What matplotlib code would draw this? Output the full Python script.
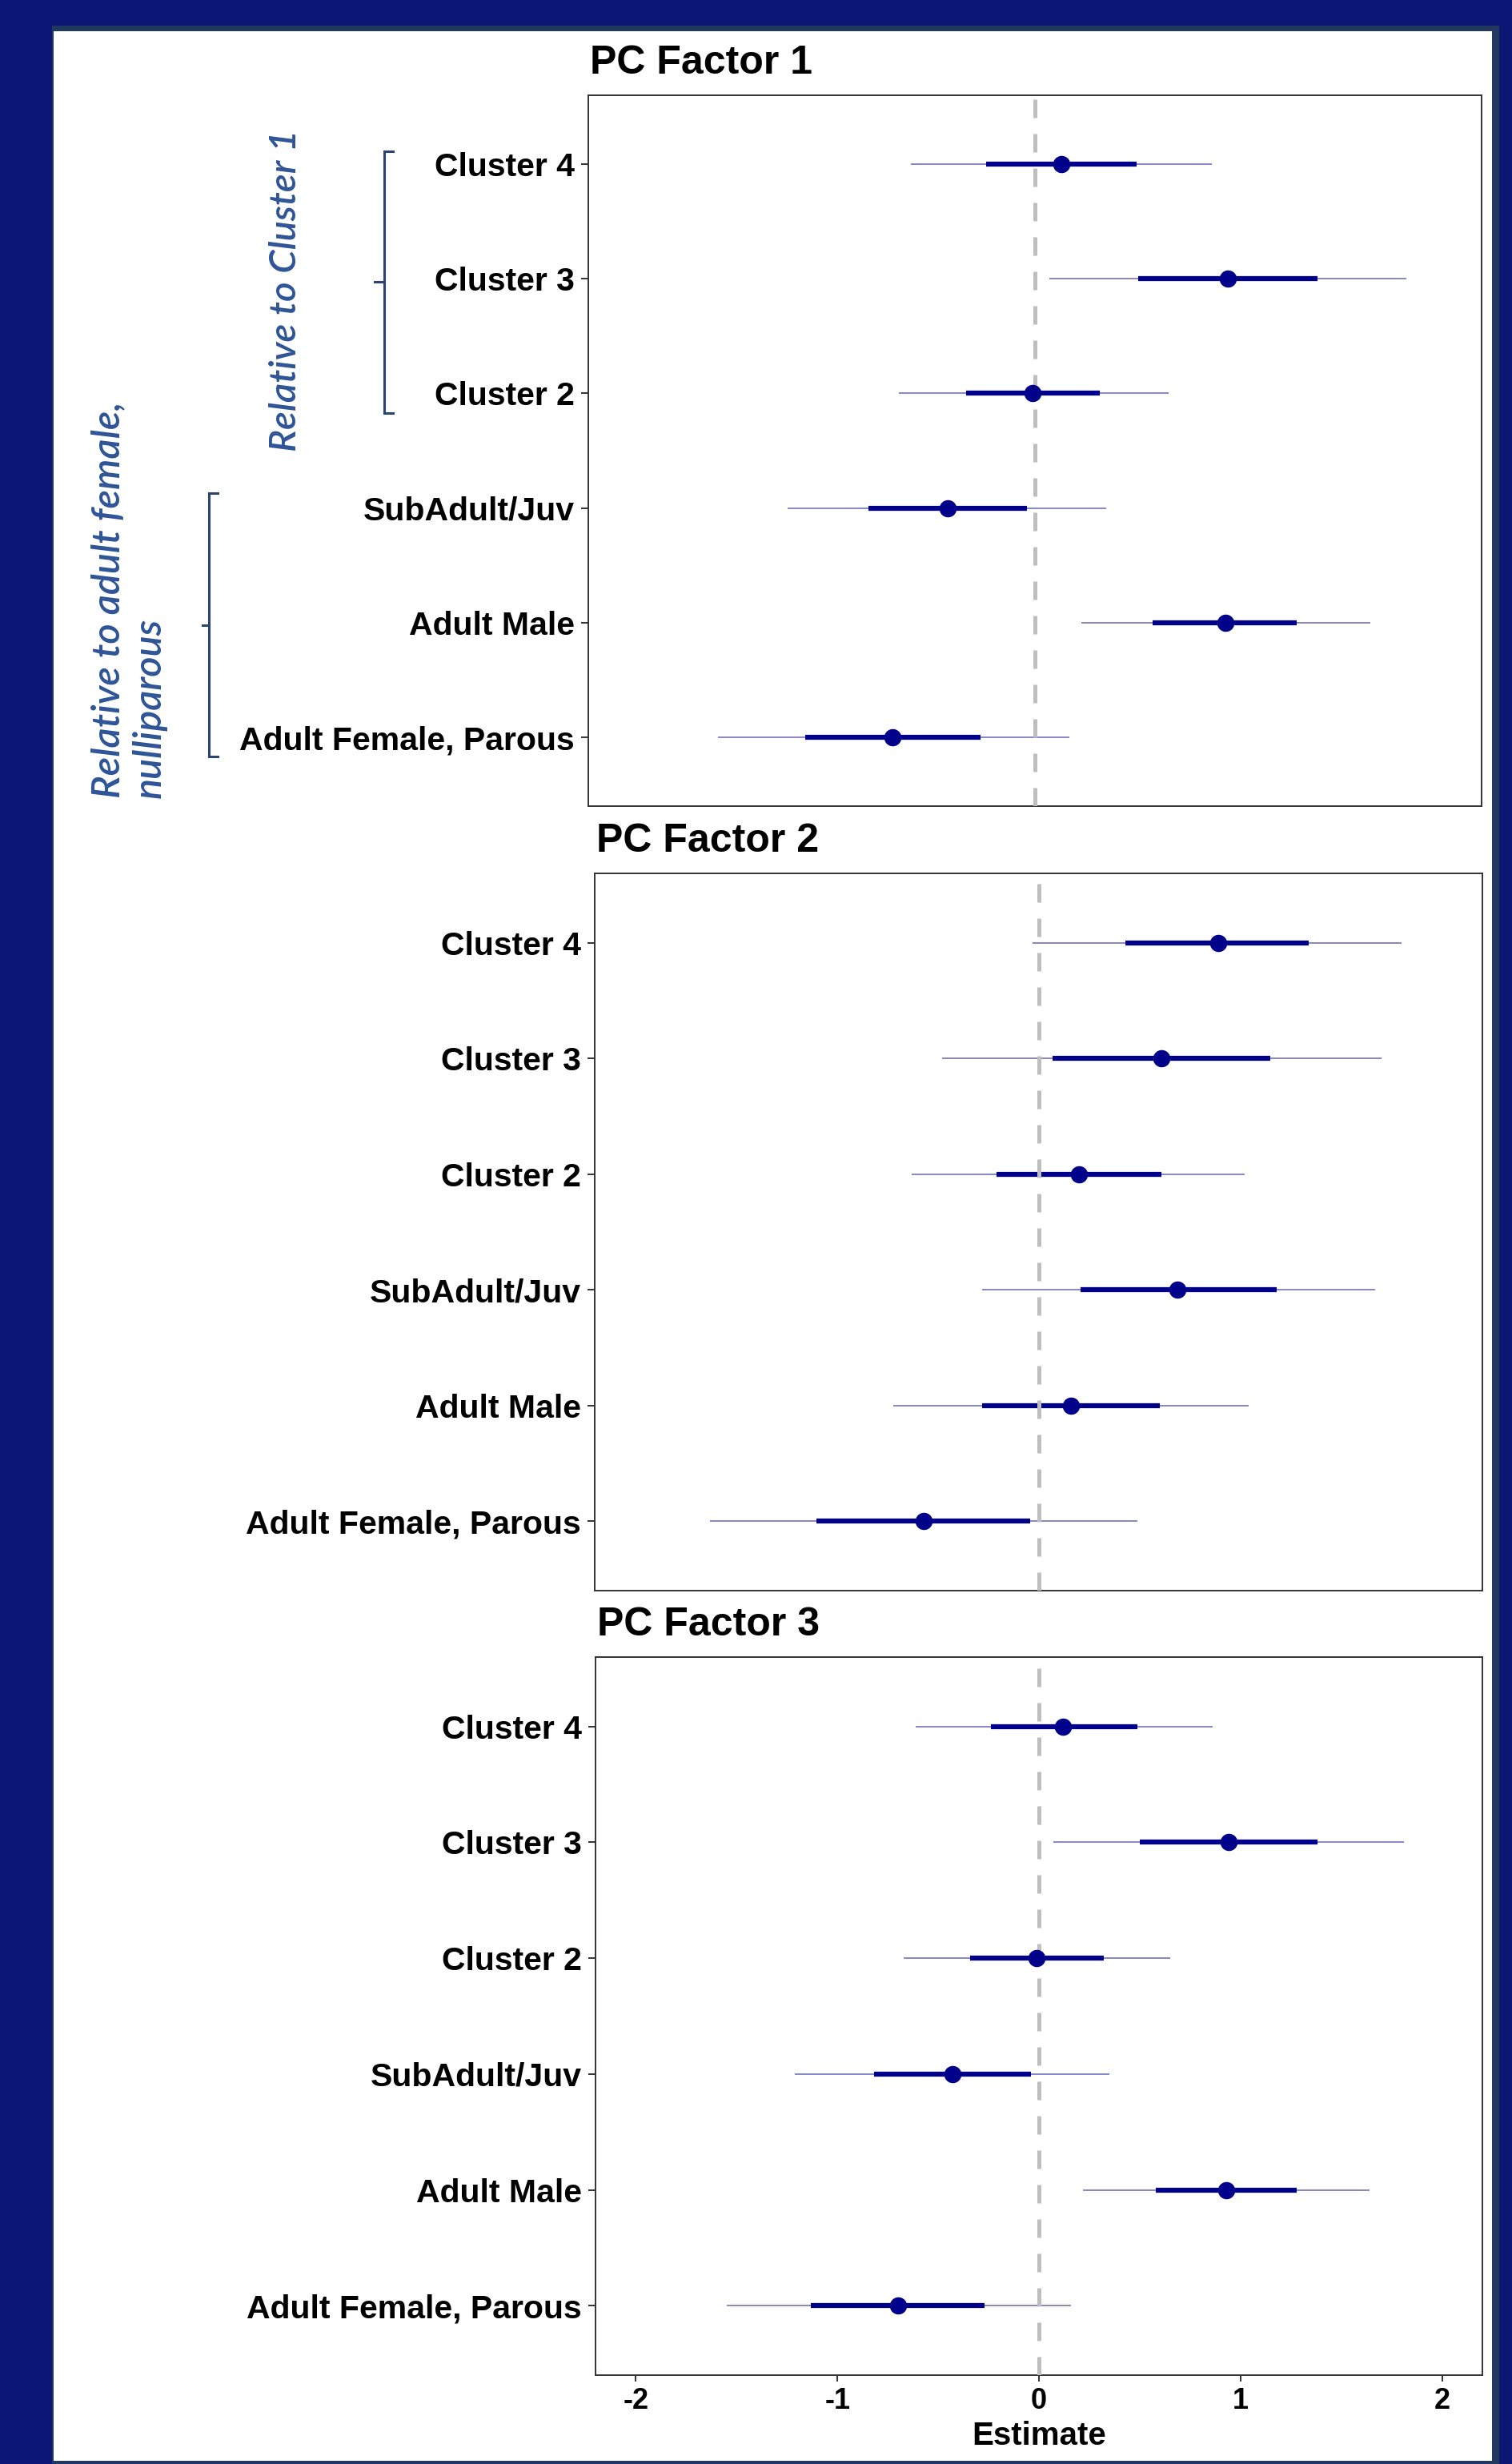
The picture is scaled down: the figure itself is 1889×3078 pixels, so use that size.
import matplotlib
matplotlib.use("Agg")
import matplotlib.pyplot as plt
import matplotlib.transforms as mtransforms
from matplotlib.patches import Rectangle
from matplotlib.lines import Line2D

# ---- data (rows listed bottom to top) ----
categories = ["Adult Female, Parous", "Adult Male", "SubAdult/Juv",
              "Cluster 2", "Cluster 3", "Cluster 4"]

pc1_est  = [-0.70, 0.94, -0.43, -0.01, 0.95, 0.13]
pc1_lo50 = [-1.13, 0.58, -0.82, -0.34, 0.51, -0.24]
pc1_hi50 = [-0.27, 1.29, -0.04, 0.32, 1.39, 0.50]
pc1_lo95 = [-1.56, 0.23, -1.22, -0.67, 0.07, -0.61]
pc1_hi95 = [0.17, 1.65, 0.35, 0.66, 1.83, 0.87]

pc2_est  = [-0.57, 0.16, 0.69, 0.20, 0.61, 0.89]
pc2_lo50 = [-1.10, -0.28, 0.21, -0.21, 0.07, 0.43]
pc2_hi50 = [-0.04, 0.60, 1.18, 0.61, 1.15, 1.34]
pc2_lo95 = [-1.63, -0.72, -0.28, -0.63, -0.48, -0.03]
pc2_hi95 = [0.49, 1.04, 1.67, 1.02, 1.70, 1.80]

pc3_est  = [-0.70, 0.93, -0.43, -0.01, 0.94, 0.12]
pc3_lo50 = [-1.13, 0.58, -0.82, -0.34, 0.50, -0.24]
pc3_hi50 = [-0.27, 1.28, -0.04, 0.32, 1.38, 0.49]
pc3_lo95 = [-1.55, 0.22, -1.21, -0.67, 0.07, -0.61]
pc3_hi95 = [0.16, 1.64, 0.35, 0.65, 1.81, 0.86]

panel_titles = ["PC Factor 1", "PC Factor 2", "PC Factor 3"]
x_ticks = [-2, -1, 0, 1, 2]
x_label = "Estimate"

panels = [
    (pc1_est, pc1_lo50, pc1_hi50, pc1_lo95, pc1_hi95),
    (pc2_est, pc2_lo50, pc2_hi50, pc2_lo95, pc2_hi95),
    (pc3_est, pc3_lo50, pc3_hi50, pc3_lo95, pc3_hi95),
]

# ---- styling ----
W, H = 1889, 3078
DPI = 100
BG = "#0b1774"
FRAME = "#22395f"
MARK = "#00008b"
ANNOT = "#2f5597"
BRACKET = "#2c4470"
BOLD = dict(family=["Liberation Sans", "DejaVu Sans"], weight="bold")

fig = plt.figure(figsize=(W / DPI, H / DPI), dpi=DPI)
fig.patch.set_facecolor(BG)


def fx(px):
    return px / W


def fy(py):
    return 1 - py / H


# slide frame and white card behind the plots
fig.add_artist(Rectangle((fx(65), 0), fx(1873 - 65), (H - 32) / H,
                         transform=fig.transFigure, facecolor=FRAME,
                         edgecolor="none", zorder=-10))
fig.add_artist(Rectangle((fx(67), fy(3074)), fx(1864 - 67), (3074 - 39) / H,
                         transform=fig.transFigure, facecolor="white",
                         edgecolor="none", zorder=-9))

# axes boxes in pixel coordinates: left, top, right, bottom
boxes = [(735, 119, 1851, 1007), (743, 1091, 1852, 1987), (744, 2070, 1852, 2967)]
ypos = list(range(1, len(categories) + 1))

axes = []
for i, ((l, t, r, b), data) in enumerate(zip(boxes, panels)):
    ax = fig.add_axes([fx(l), fy(b), fx(r - l), (b - t) / H])
    est, lo50, hi50, lo95, hi95 = data
    ax.hlines(ypos, lo95, hi95, color=MARK, alpha=0.6, lw=1.1, zorder=2)
    ax.hlines(ypos, lo50, hi50, color=MARK, lw=4.5, zorder=3)
    ax.axvline(0, color="#bebebe", lw=3.6, dashes=(4.6, 4.0), zorder=4)
    ax.plot(est, ypos, "o", ms=15.5, color=MARK, mec="none", zorder=5)

    ax.set_xlim(-2.2, 2.2)
    ax.set_ylim(0.4, 6.6)
    ax.set_yticks(ypos)
    ax.set_yticklabels(categories, fontsize=29.5, color="black", **BOLD)
    ax.tick_params(axis="y", length=6.5, width=1.4, color="#333333", pad=5.8)
    for sp in ax.spines.values():
        sp.set_color("#333333")
        sp.set_linewidth(1.4)

    if i < 2:
        ax.set_xticks([])
    else:
        ax.set_xticks(x_ticks)
        ax.set_xticklabels([str(v) for v in x_ticks], fontsize=26, **BOLD)
        ax.tick_params(axis="x", length=6, width=1.4, color="#333333", pad=4.5)
        ax.set_xlabel(x_label, fontsize=29, labelpad=5, **BOLD)

    off = mtransforms.offset_copy(ax.transAxes, fig=fig, x=1.5, y=19.4, units="points")
    ax.text(0, 1, panel_titles[i], transform=off, ha="left", va="baseline",
            fontsize=36, **BOLD)
    axes.append(ax)

ax1 = axes[0]

# group brackets beside the first panel's labels
btr = mtransforms.blended_transform_factory(fig.transFigure, ax1.transData)


def bracket(x, x_serif, x_mid, y0, y1, ymid):
    pts_x = [fx(x_serif), fx(x), fx(x), fx(x_serif)]
    pts_y = [y1, y1, y0, y0]
    fig.add_artist(Line2D(pts_x, pts_y, transform=btr, color=BRACKET, lw=2.2,
                          solid_joinstyle="miter"))
    fig.add_artist(Line2D([fx(x_mid), fx(x)], [ymid, ymid], transform=btr,
                          color=BRACKET, lw=2.2))


bracket(480, 491, 468, 3.83, 6.11, 4.97)
bracket(261, 272, 253, 0.83, 3.13, 1.98)

ITAL = dict(family=["Lato", "DejaVu Sans"], style="italic", weight="semibold",
            color=ANNOT)
fig.text(fx(357), fy(363), "Relative to Cluster 1", rotation=90,
         ha="center", va="center", fontsize=34, **ITAL)
fig.text(fx(161), fy(997), "Relative to adult female,\nnulliparous", rotation=90,
         ha="center", va="bottom", multialignment="left", fontsize=35,
         linespacing=1.2, **ITAL)

fig.savefig("out.png", dpi=DPI, facecolor=fig.get_facecolor())
